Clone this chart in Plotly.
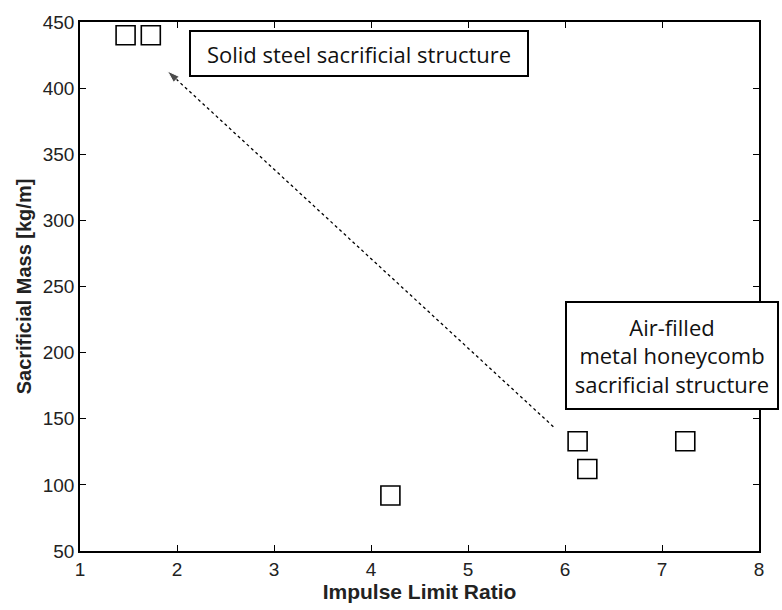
import plotly.graph_objects as go

impulse_ratio = [1.47, 1.73, 4.2, 6.13, 6.23, 7.24]
sacrificial_mass = [440, 440, 92, 133, 112, 133]

arrow_x = [5.88, 1.90]
arrow_y = [144, 413]

x_ticks = [1, 2, 3, 4, 5, 6, 7, 8]
y_ticks = [50, 100, 150, 200, 250, 300, 350, 400, 450]

fig = go.Figure()

fig.add_trace(go.Scatter(
    x=impulse_ratio, y=sacrificial_mass, mode="markers",
    marker=dict(symbol="square-open", size=19, color="black",
                line=dict(width=1.6, color="black")),
    showlegend=False, cliponaxis=False,
))

fig.add_trace(go.Scatter(
    x=arrow_x, y=arrow_y, mode="lines+markers",
    line=dict(color="black", width=1.3, dash="dot"),
    marker=dict(symbol=["circle", "arrow"], size=[0, 13], color="black",
                angleref="previous"),
    showlegend=False,
))

font_ann = dict(family="Open Sans, Noto Sans, sans-serif", size=22, color="#111")

fig.add_annotation(
    x=3.876, y=426, xref="x", yref="y",
    text="Solid steel sacrificial structure", showarrow=False,
    font=font_ann, bgcolor="white", bordercolor="black", borderwidth=2,
    width=334, height=41, borderpad=1,
)
fig.add_annotation(
    x=7.10, y=198, xref="x", yref="y",
    text="Air-filled<br>metal honeycomb<br>sacrificial structure", showarrow=False,
    font=font_ann, bgcolor="white", bordercolor="black", borderwidth=2,
    width=208, height=103, borderpad=1,
)

axis_common = dict(
    showgrid=False, zeroline=False, showline=True, linecolor="black", linewidth=1.5,
    mirror="ticks", ticks="inside", ticklen=6, tickwidth=1.3, tickcolor="black",
    tickfont=dict(family="Liberation Sans, Arial, sans-serif", size=19, color="#222"),
)

fig.update_xaxes(range=[1, 8], tickvals=x_ticks, **axis_common,
                 title=dict(text="<b>Impulse Limit Ratio</b>", standoff=3,
                            font=dict(family="Liberation Sans, Arial, sans-serif", size=21, color="#222")))
fig.update_yaxes(range=[50, 450], tickvals=y_ticks, **axis_common,
                 title=dict(text="<b>Sacrificial Mass [kg/m]</b>", standoff=6,
                            font=dict(family="Liberation Sans, Arial, sans-serif", size=20, color="#222")))

fig.update_layout(
    width=782, height=610,
    margin=dict(l=80, r=23, t=15, b=59),
    paper_bgcolor="white", plot_bgcolor="white",
)

fig.write_html("out.html")
